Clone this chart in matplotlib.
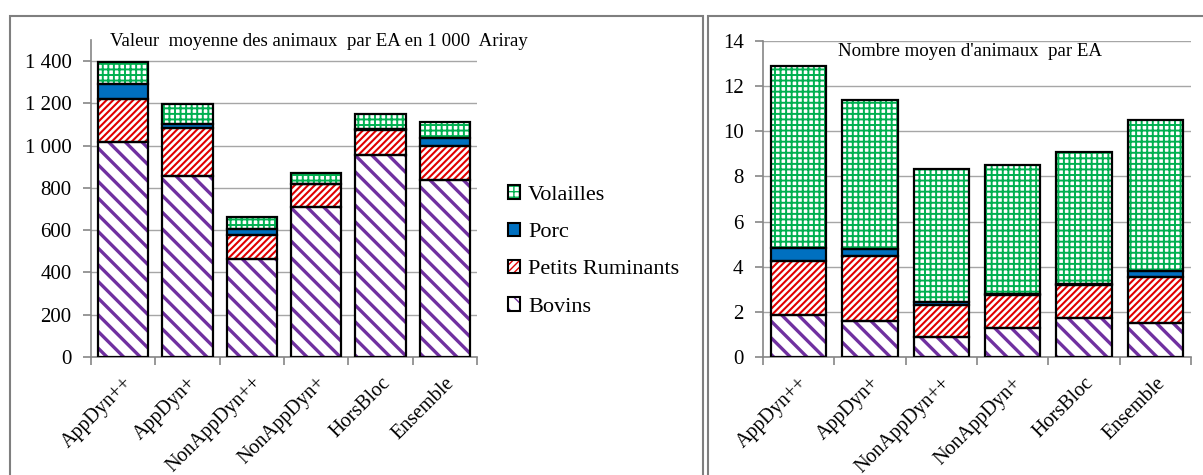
import numpy as np
import matplotlib.pyplot as plt
from matplotlib.patches import Patch, Rectangle
from matplotlib.legend_handler import HandlerTuple

plt.rcParams['font.family'] = ['Liberation Serif', 'DejaVu Serif']

categories = ["AppDyn++", "AppDyn+", "NonAppDyn++", "NonAppDyn+", "HorsBloc", "Ensemble"]
series = ["Bovins", "Petits Ruminants", "Porc", "Volailles"]

# valeur moyenne par EA (1 000 Ariary)
val_bovins = [1015, 856, 465, 709, 954, 836]
val_petits = [205, 227, 111, 109, 121, 163]
val_porc = [71, 21, 29, 2, 2, 36]
val_volailles = [103, 93, 56, 50, 72, 75]

# nombre moyen d'animaux par EA
nb_bovins = [1.86, 1.62, 0.88, 1.30, 1.73, 1.53]
nb_petits = [2.39, 2.86, 1.42, 1.47, 1.48, 2.01]
nb_porc = [0.57, 0.30, 0.15, 0.02, 0.02, 0.29]
nb_volailles = [8.08, 6.59, 5.88, 5.70, 5.84, 6.67]

colors = {"Bovins": "#7030A0", "Petits Ruminants": "#E00000",
          "Porc": "#0070C0", "Volailles": "#00B050"}
hatches = {"Bovins": "\\\\", "Petits Ruminants": "/////", "Porc": None, "Volailles": "+++"}
hatch_lw = {"Bovins": 2.4, "Petits Ruminants": 1.5, "Porc": 1.0, "Volailles": 1.4}

W, H = 1203, 475
fig = plt.figure(figsize=(W / 100, H / 100), dpi=100)

# panel frames
fig.patches.append(Rectangle((10 / W, -0.05), 693 / W, 1.05 - 16 / H, transform=fig.transFigure,
                             fill=False, edgecolor="#7f7f7f", linewidth=1.5))
fig.patches.append(Rectangle((708 / W, -0.05), 0.5, 1.05 - 16 / H, transform=fig.transFigure,
                             fill=False, edgecolor="#7f7f7f", linewidth=1.5))

ax1 = fig.add_axes([91 / W, 1 - 357 / H, 386 / W, 317 / H])
ax2 = fig.add_axes([763 / W, 1 - 357.3 / H, 428 / W, 316.6 / H])


def set_hlw(patches, lw):
    for p in patches:
        if hasattr(p, "set_hatch_linewidth"):
            p.set_hatch_linewidth(lw)


def draw(ax, data, ymax, yticks, ticklabels):
    x = np.arange(len(categories))
    bottom = np.zeros(len(categories))
    for name, vals in zip(series, data):
        vals = np.array(vals)
        with plt.rc_context({"hatch.linewidth": hatch_lw[name]}):
            if hatches[name]:
                bars = ax.bar(x, vals, 0.78, bottom=bottom, color="white", edgecolor=colors[name],
                              hatch=hatches[name], linewidth=0, zorder=2)
            else:
                bars = ax.bar(x, vals, 0.78, bottom=bottom, color=colors[name], linewidth=0, zorder=2)
        set_hlw(bars, hatch_lw[name])
        ax.bar(x, vals, 0.78, bottom=bottom, fill=False, edgecolor="black", linewidth=1.6, zorder=3)
        bottom += vals
    ax.set_xlim(-0.5, len(categories) - 0.5)
    ax.set_ylim(0, ymax)
    ax.set_yticks(yticks)
    ax.set_yticklabels(ticklabels, fontsize=15)
    ax.yaxis.grid(True, color="#a6a6a6", linewidth=1)
    ax.set_axisbelow(True)
    ax.set_xticks(x)
    ax.set_xticklabels(categories, rotation=45, ha="right", rotation_mode="anchor", fontsize=14.5)
    ax.set_xticks(np.arange(-0.5, len(categories)), minor=True)
    ax.tick_params(axis="x", which="major", length=0, pad=12)
    ax.tick_params(axis="x", which="minor", length=6, color="#868686", width=1.2)
    ax.tick_params(axis="y", length=6, color="#868686", width=1.2, pad=8)
    for s in ["top", "right"]:
        ax.spines[s].set_visible(False)
    for s in ["left", "bottom"]:
        ax.spines[s].set_color("#868686")
        ax.spines[s].set_linewidth(1.2)


draw(ax1, [val_bovins, val_petits, val_porc, val_volailles], 1500,
     np.arange(0, 1401, 200), ["0", "200", "400", "600", "800", "1 000", "1 200", "1 400"])
draw(ax2, [nb_bovins, nb_petits, nb_porc, nb_volailles], 14,
     np.arange(0, 15, 2), [str(v) for v in range(0, 15, 2)])

fig.text(319 / W, 1 - 41 / H, "Valeur  moyenne des animaux  par EA en 1 000  Ariray",
         ha="center", va="center", fontsize=13.6)
fig.text(970 / W, 1 - 52 / H, "Nombre moyen d'animaux  par EA",
         ha="center", va="center", fontsize=13.6)

handles = []
for name in reversed(series):
    with plt.rc_context({"hatch.linewidth": hatch_lw[name]}):
        if hatches[name]:
            h1 = Patch(facecolor="white", edgecolor=colors[name], hatch=hatches[name], linewidth=0)
        else:
            h1 = Patch(facecolor=colors[name], linewidth=0)
    set_hlw([h1], hatch_lw[name])
    h2 = Patch(fill=False, edgecolor="black", linewidth=1.5)
    handles.append((h1, h2))

fig.legend(handles, list(reversed(series)), handler_map={tuple: HandlerTuple(ndivide=1, pad=0)},
           loc="center left", bbox_to_anchor=(508 / W, 1 - 251 / H), frameon=False,
           fontsize=16, handlelength=0.55, handleheight=0.55, handletextpad=0.35,
           labelspacing=0.8, borderpad=0, borderaxespad=0)

fig.savefig("out.png", dpi=100)
